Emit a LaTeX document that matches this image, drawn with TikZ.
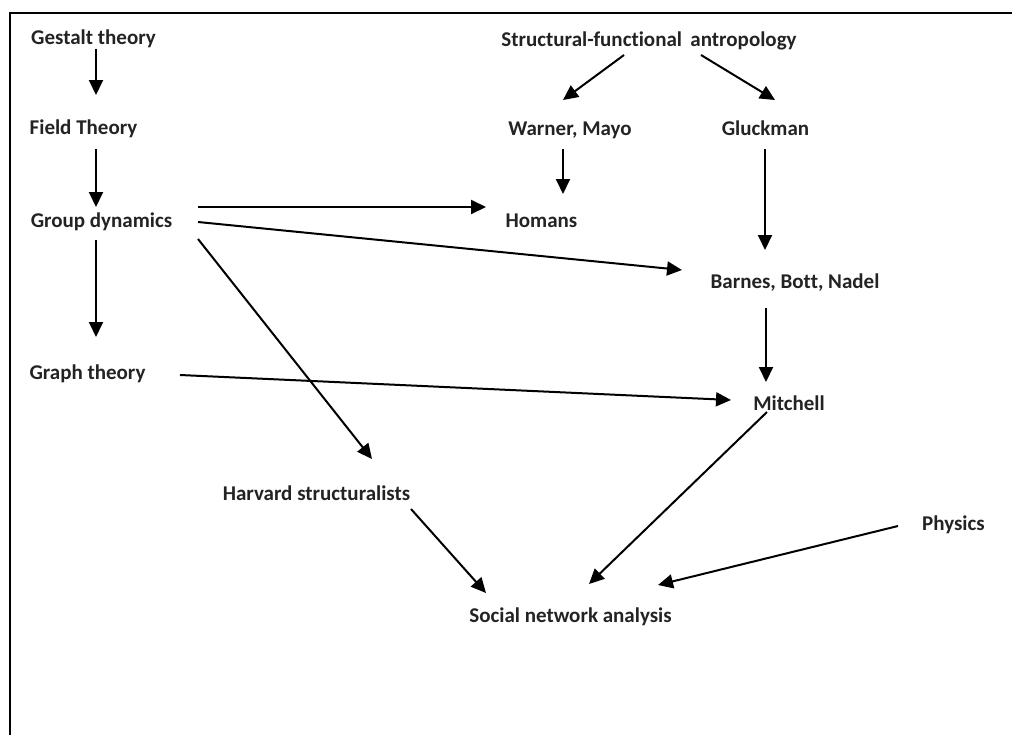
\documentclass[tikz,border=0pt]{standalone}
\usepackage{fontspec}
\setmainfont{Carlito}[Ligatures=CommonOff]
\usetikzlibrary{arrows.meta}

\definecolor{inkgray}{RGB}{35,35,35}

\tikzset{
  label/.style={anchor=base, inner sep=0pt, text=inkgray,
    font=\fontsize{21}{25}\selectfont\bfseries},
  arr/.style={line width=2pt, -{Triangle[length=15pt,width=14pt]}},
}

\begin{document}
\begin{tikzpicture}[x=1pt,y=-1pt]
\useasboundingbox (0,0) rectangle (1012,734);

% frame (left and top edges)
\draw[line width=2pt] (10,740) -- (10,13) -- (1020,13);

% left column
\node[label] (gestalt)    at (93.5,44)  {Gestalt theory};
\node[label] (field)      at (83.5,134) {Field Theory};
\node[label] (group)      at (101.5,227){Group dynamics};
\node[label] (graph)      at (87.5,379) {Graph theory};
\node[label] (harvard)    at (316.5,500){Harvard structuralists};

% anthropology branch
\node[label] (structural) at (649,46)   {Structural-functional\hspace{0.4em}antropology};
\node[label] (warner)     at (570,135)  {Warner, Mayo};
\node[label] (gluckman)   at (765.5,135){Gluckman};
\node[label] (homans)     at (541.5,227){Homans};
\node[label] (barnes)     at (795,288)  {Barnes, Bott, Nadel};
\node[label] (mitchell)   at (789,410)  {Mitchell};
\node[label] (physics)    at (953.5,530){Physics};
\node[label] (sna)        at (570.5,622){Social network analysis};

% connectors
\draw[arr] ([shift={(2.5,5)}]gestalt.base)   -- ([shift={(12.5,-39)}]field.base);
\draw[arr] ([shift={(12.5,15)}]field.base)   -- ([shift={(-5.5,-20)}]group.base);
\draw[arr] ([shift={(-5.5,13)}]group.base)   -- ([shift={(8.5,-42)}]graph.base);
\draw[arr] ([shift={(96.5,-20)}]group.base)  -- ([shift={(-55.5,-20)}]homans.base);
\draw[arr] ([shift={(96.5,-5)}]group.base)   -- ([shift={(-113,-18)}]barnes.base);
\draw[arr] ([shift={(96.5,12)}]group.base)   -- ([shift={(55.5,-41)}]harvard.base);
\draw[arr] ([shift={(92.5,-4)}]graph.base)   -- ([shift={(-58,-10)}]mitchell.base);
\draw[arr] ([shift={(-25,9)}]structural.base) -- ([shift={(-7,-35)}]warner.base);
\draw[arr] ([shift={(52,9)}]structural.base)  -- ([shift={(9.5,-35)}]gluckman.base);
\draw[arr] ([shift={(-7,14)}]warner.base)    -- ([shift={(21.5,-33)}]homans.base);
\draw[arr] ([shift={(-0.5,14)}]gluckman.base) -- ([shift={(-30,-38)}]barnes.base);
\draw[arr] ([shift={(-29,20)}]barnes.base)   -- ([shift={(-23,-28)}]mitchell.base);
\draw[arr] ([shift={(-22,2)}]mitchell.base)  -- ([shift={(18.5,-38)}]sna.base);
\draw[arr] ([shift={(94.5,9)}]harvard.base)  -- ([shift={(-84.5,-29)}]sna.base);
\draw[arr] ([shift={(-55.5,-4)}]physics.base) -- ([shift={(87.5,-37)}]sna.base);
\end{tikzpicture}
\end{document}
